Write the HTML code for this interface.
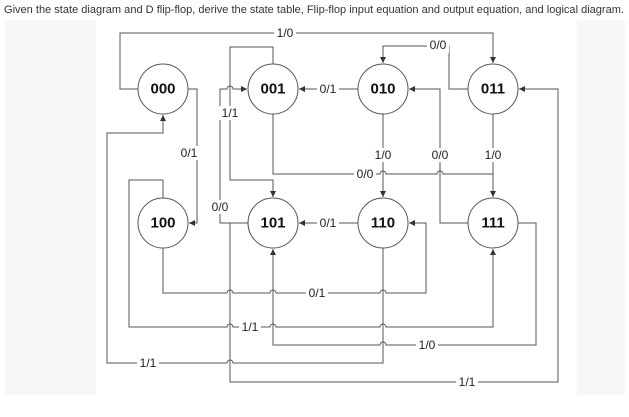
<!DOCTYPE html>
<html><head><meta charset="utf-8"><style>
html,body{margin:0;padding:0;background:#fff;}
svg{display:block;}
.l{fill:none;stroke:#555;stroke-width:1;}
.c{fill:#fff;stroke:#555;stroke-width:1;}
.s{font:bold 15px "Liberation Sans",Arial,sans-serif;fill:#111;text-anchor:middle;dominant-baseline:central;}
.t{font:12px "Liberation Sans",Arial,sans-serif;fill:#222;text-anchor:middle;dominant-baseline:central;}
</style></head><body>
<svg width="629" height="417" viewBox="0 0 629 417" xmlns="http://www.w3.org/2000/svg">
<defs><marker id="a" markerUnits="userSpaceOnUse" markerWidth="7" markerHeight="7" refX="6" refY="3" orient="auto"><path d="M0,0 L6,3 L0,6 z" fill="#333"/></marker></defs>
<rect x="5" y="20" width="91" height="375" fill="#f7f7f7"/>
<rect x="577" y="20" width="48" height="375" fill="#f7f7f7"/>
<text x="4" y="13" font-family="Liberation Sans, Arial, sans-serif" font-size="11" fill="#333" textLength="620" lengthAdjust="spacingAndGlyphs">Given the state diagram and D flip-flop, derive the state table, Flip-flop input equation and output equation, and logical diagram.</text>

<path class="l" marker-end="url(#a)" d="M138,89 H120 V33 H493 V63"/>
<path class="l" marker-end="url(#a)" d="M273,64 V47 H230 V180 H273 V197"/>
<path class="l" marker-end="url(#a)" d="M468,89 H449 V46 H383 V63"/>
<path class="l" marker-end="url(#a)" d="M358,89 H299"/>
<path class="l" marker-end="url(#a)" d="M188,89 H197 V223 H189"/>
<path class="l" marker-end="url(#a)" d="M383,114 V197"/>
<path class="l" d="M273,114 V174 H380 a3,3 0 0 1 6,0 H437 a3,3 0 0 1 6,0 H493"/>
<path class="l" marker-end="url(#a)" d="M493,114 V197"/>
<path class="l" marker-end="url(#a)" d="M468,223 H440 V89 H409"/>
<path class="l" marker-end="url(#a)" d="M248,223 H220 V89 H227 a3,3 0 0 1 6,0 H247"/>
<path class="l" marker-end="url(#a)" d="M358,223 H299"/>
<path class="l" marker-end="url(#a)" d="M163,198 V180 H129 V327 H227 a3,3 0 0 1 6,0 H270 a3,3 0 0 1 6,0 H380 a3,3 0 0 1 6,0 H493 V249"/>
<path class="l" marker-end="url(#a)" d="M163,248 V293 H227 a3,3 0 0 1 6,0 H270 a3,3 0 0 1 6,0 H380 a3,3 0 0 1 6,0 H426 V223 H409"/>
<path class="l" marker-end="url(#a)" d="M518,223 H536 V345 H386 a3,3 0 0 0 -6,0 H273 V249"/>
<path class="l" marker-end="url(#a)" d="M383,248 V363 H233 a3,3 0 0 0 -6,0 H107 V133 H163 V115"/>
<path class="l" marker-end="url(#a)" d="M230,223 V382 H558 V89 H519"/>

<circle class="c" cx="163" cy="89" r="25"/><text class="s" x="163" y="89">000</text>
<circle class="c" cx="273" cy="89" r="25"/><text class="s" x="273" y="89">001</text>
<circle class="c" cx="383" cy="89" r="25"/><text class="s" x="383" y="89">010</text>
<circle class="c" cx="493" cy="89" r="25"/><text class="s" x="493" y="89">011</text>
<circle class="c" cx="163" cy="223" r="25"/><text class="s" x="163" y="223">100</text>
<circle class="c" cx="273" cy="223" r="25"/><text class="s" x="273" y="223">101</text>
<circle class="c" cx="383" cy="223" r="25"/><text class="s" x="383" y="223">110</text>
<circle class="c" cx="493" cy="223" r="25"/><text class="s" x="493" y="223">111</text>

<g>
<rect x="274" y="26" width="22" height="14" fill="#fff"/><text class="t" x="285" y="33">1/0</text>
<rect x="219" y="106" width="22" height="14" fill="#fff"/><text class="t" x="230" y="113">1/1</text>
<rect x="427" y="39" width="22" height="14" fill="#fff"/><text class="t" x="438" y="45">0/0</text>
<rect x="317" y="82" width="22" height="14" fill="#fff"/><text class="t" x="328" y="89">0/1</text>
<rect x="183" y="146" width="22" height="14" fill="#fff"/><text class="t" x="189" y="153">0/1</text>
<rect x="372" y="148" width="22" height="14" fill="#fff"/><text class="t" x="383" y="155">1/0</text>
<rect x="354" y="167" width="22" height="14" fill="#fff"/><text class="t" x="365" y="174">0/0</text>
<rect x="482" y="148" width="22" height="14" fill="#fff"/><text class="t" x="493" y="155">1/0</text>
<rect x="429" y="148" width="22" height="14" fill="#fff"/><text class="t" x="440" y="155">0/0</text>
<rect x="209" y="200" width="22" height="14" fill="#fff"/><text class="t" x="220" y="207">0/0</text>
<rect x="317" y="216" width="22" height="14" fill="#fff"/><text class="t" x="328" y="223">0/1</text>
<rect x="239" y="320" width="22" height="14" fill="#fff"/><text class="t" x="250" y="327">1/1</text>
<rect x="306" y="286" width="22" height="14" fill="#fff"/><text class="t" x="317" y="293">0/1</text>
<rect x="416" y="338" width="22" height="14" fill="#fff"/><text class="t" x="427" y="345">1/0</text>
<rect x="137" y="356" width="22" height="14" fill="#fff"/><text class="t" x="148" y="363">1/1</text>
<rect x="456" y="375" width="22" height="14" fill="#fff"/><text class="t" x="467" y="382">1/1</text>
</g>
</svg>
</body></html>
